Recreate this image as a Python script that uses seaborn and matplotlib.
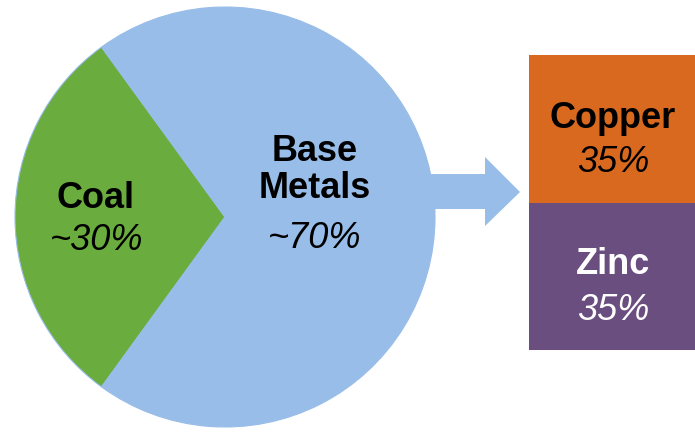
import matplotlib
matplotlib.use("Agg")
import matplotlib.pyplot as plt
import seaborn as sns
import pandas as pd
from matplotlib.patches import Polygon

sns.set_theme(style="white")
plt.rcParams['font.family'] = ['Liberation Sans', 'DejaVu Sans']

# ---- data ----
pie_labels = ["Coal", "Base\nMetals"]
pie_values = [30, 70]
pie_value_text = ["~30%", "~70%"]
metal_labels = ["Copper", "Zinc"]
metal_values = [35, 35]

GREEN = "#6AAC3D"
BLUE = "#98BDE8"
ORANGE = "#D9691F"
PURPLE = "#6A4E80"

W, H = 695, 432
fig = plt.figure(figsize=(W / 100, H / 100), dpi=100)

def px_axes(x0, y0, x1, y1):
    return fig.add_axes([x0 / W, 1 - y1 / H, (x1 - x0) / W, (y1 - y0) / H])

# overlay axes (behind) in pixel coords for the arrow
ax_o = px_axes(0, 0, W, H)
ax_o.set_xlim(0, W)
ax_o.set_ylim(H, 0)
ax_o.axis("off")
arrow = Polygon([(400, 174), (485, 174), (485, 157), (520, 192),
                 (485, 226), (485, 209), (400, 209)],
                closed=True, facecolor=BLUE, edgecolor="none")
ax_o.add_patch(arrow)

# pie
ax_p = px_axes(15, 7, 435, 427)
share = pie_values[0] / sum(pie_values) * 360
ax_p.pie(pie_values, colors=[GREEN, BLUE], startangle=180 - share / 2,
         radius=1.0, wedgeprops=dict(edgecolor=BLUE, linewidth=0.8))
ax_p.set_xlim(-1.0, 1.0)
ax_p.set_ylim(-1.0, 1.0)
ax_p.set_aspect("auto")
ax_p.axis("off")

# stacked boxes
ax_b = px_axes(529, 55, 695, 350)
df = pd.DataFrame({"metal": metal_labels, "value": metal_values})
bottoms = [metal_values[1], 0]
cols = [ORANGE, PURPLE]
for i, row in df.iterrows():
    ax_b.bar(0, row["value"], bottom=bottoms[i], width=1.0, color=cols[i],
             edgecolor="none")
ax_b.set_xlim(-0.5, 0.5)
ax_b.set_ylim(0, sum(metal_values))
ax_b.axis("off")

# texts (overlay on top)
ax_t = px_axes(0, 0, W, H)
ax_t.set_xlim(0, W)
ax_t.set_ylim(H, 0)
ax_t.axis("off")
ax_t.patch.set_alpha(0)
fs = 26
ax_t.text(95, 198, pie_labels[0], ha="center", va="center", fontsize=fs,
          fontweight="bold", color="black")
ax_t.text(97, 240, pie_value_text[0], ha="center", va="center", fontsize=fs,
          fontstyle="italic", color="black")
ax_t.text(315, 170, pie_labels[1], ha="center", va="center", fontsize=fs,
          fontweight="bold", color="black", linespacing=1.1)
ax_t.text(315, 238, pie_value_text[1], ha="center", va="center", fontsize=fs,
          fontstyle="italic", color="black")
ax_t.text(613, 118, metal_labels[0], ha="center", va="center", fontsize=fs,
          fontweight="bold", color="black")
ax_t.text(613, 162, f"{metal_values[0]}%", ha="center", va="center",
          fontsize=fs, fontstyle="italic", color="black")
ax_t.text(613, 265, metal_labels[1], ha="center", va="center", fontsize=fs,
          fontweight="bold", color="white")
ax_t.text(613, 310, f"{metal_values[1]}%", ha="center", va="center",
          fontsize=fs, fontstyle="italic", color="white")

fig.savefig("out.png", dpi=100)
